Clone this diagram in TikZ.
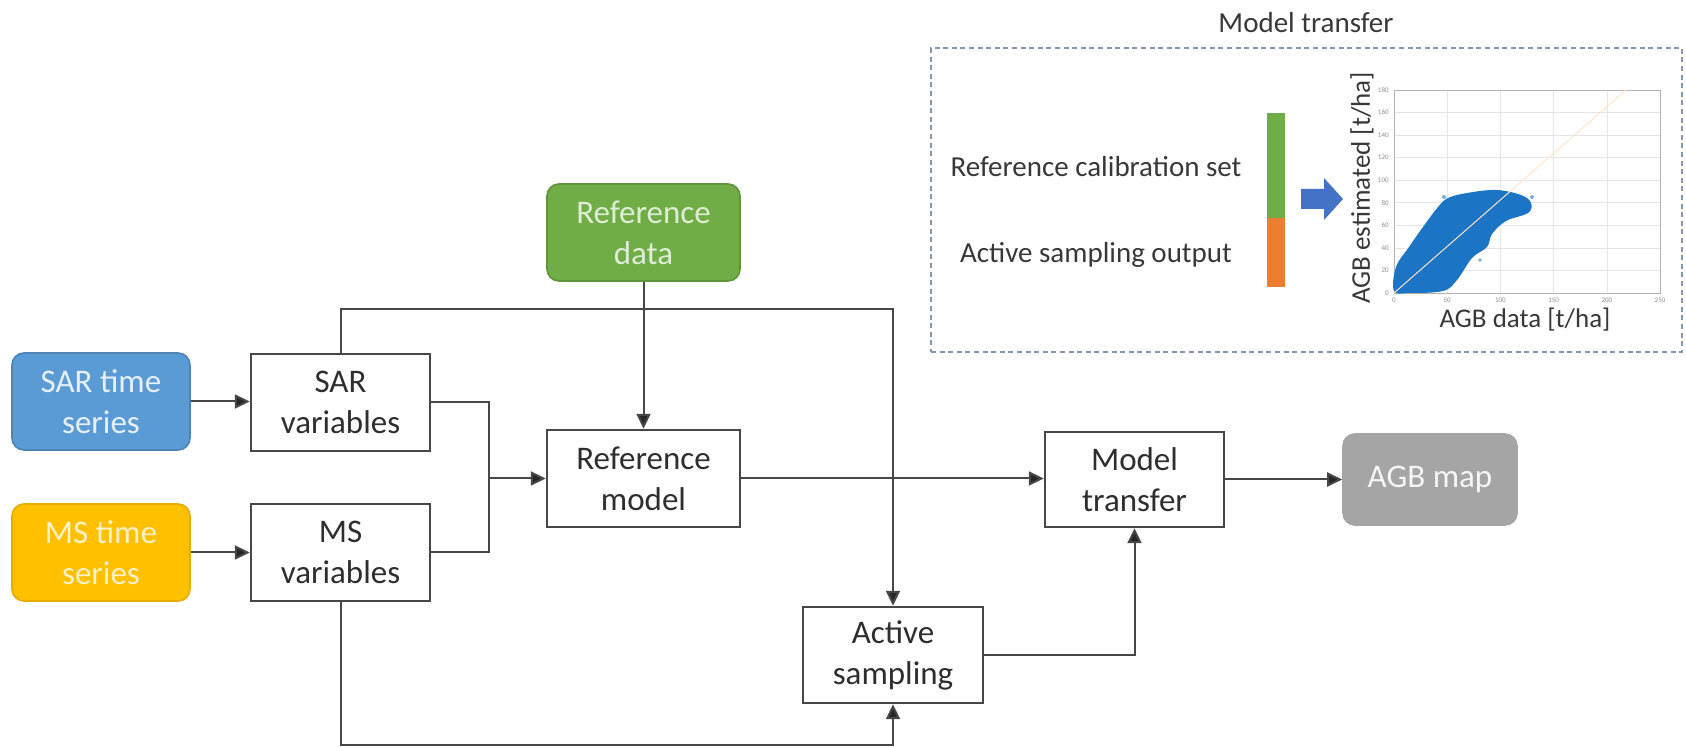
\documentclass[tikz,border=0pt]{standalone}
\usepackage{fontspec}
\setmainfont{Carlito}
\usetikzlibrary{arrows.meta}
\definecolor{sarblue}{HTML}{5B9BD5}
\definecolor{msyellow}{HTML}{FFC000}
\definecolor{refgreen}{HTML}{70AD47}
\definecolor{mapgray}{HTML}{A5A5A5}
\definecolor{calorange}{HTML}{ED7D31}
\definecolor{arrowblue}{HTML}{4472C4}
\definecolor{dotblue}{HTML}{1C74C4}
\definecolor{linegray}{HTML}{474747}
\definecolor{insetline}{HTML}{8497B0}
\begin{document}
\begin{tikzpicture}[x=0.5pt,y=-0.5pt,
  font=\fontsize{16.5}{20.5}\selectfont,
  proc/.style={draw=linegray,line width=1.2pt,fill=white,align=center,minimum width=89.5pt,minimum height=48.5pt,text=black!82,inner sep=0pt},
  src/.style={rounded corners=6pt,align=center,minimum width=89pt,minimum height=48.5pt,inner sep=0pt,line width=0.8pt},
  flow/.style={draw=linegray,line width=1pt,-{Triangle[length=7.5pt,width=7pt,fill=black!85]}},
  link/.style={draw=linegray,line width=1pt},
  insettext/.style={font=\fontsize{14.5}{17}\selectfont,text=black!78,inner sep=0pt},
  ticktext/.style={font=\fontsize{3.5}{4}\selectfont,text=black!45,inner sep=0pt}]
\useasboundingbox (0,0) rectangle (1686,747);
% main flow
\node[src,fill=sarblue,draw=sarblue!85!black,text=white!85!sarblue] (sarts) at (101,401.5) {SAR time\\series};
\node[proc] (sarvar) at (340.5,402.5) {SAR\\variables};
\node[src,fill=msyellow,draw=msyellow!90!black,text=white!78!msyellow] (msts) at (101,552.5) {MS time\\series};
\node[proc] (msvar) at (340.5,552.5) {MS\\variables};
\node[src,fill=refgreen,draw=refgreen!85!black,text=white!78!refgreen,minimum width=96.5pt] (refdata) at (643.5,232.5) {Reference\\data};
\node[proc,minimum width=96.5pt] (refmodel) at (643.5,478.5) {Reference\\model};
\node[proc,minimum width=90pt,minimum height=48pt] (actsamp) at (893,655) {Active\\sampling};
\node[proc,minimum height=47.5pt] (modtrans) at (1134.5,479.5) {Model\\transfer};
\node[src,fill=mapgray,draw=mapgray,text=white!90!mapgray,minimum width=87pt,minimum height=45.5pt] (agbmap) at (1430,479.5) {AGB map};
\coordinate (merge) at (489,478.5);
\coordinate (topturn) at (893,309);
\coordinate (botturn) at (340.5,745);
\draw[flow] (sarts.east) -- (sarts.east -| sarvar.west);
\draw[flow] (msts.east) -- (msvar.west);
\draw[link] (sarvar.east) -| (merge);
\draw[link] (msvar.east) -| (merge);
\draw[flow] (merge) -- (refmodel.west);
\draw[flow] (refdata) -- (refmodel);
\draw[flow] (sarvar.north) |- (topturn) -- (actsamp.north);
\draw[flow] (refmodel.east) -- (refmodel.east -| modtrans.west);
\draw[flow] (msvar.south) -- (botturn) -| (actsamp.south);
\draw[flow] (actsamp.east) -| (modtrans.south);
\draw[flow] (modtrans) -- (agbmap);
% inset: model transfer
\node[insettext] (insettitle) at (1306,23) {Model transfer};
\node[draw=insetline,line width=0.7pt,dash pattern=on 2.5pt off 1.8pt,minimum width=375.5pt,minimum height=152pt,inner sep=0pt] (insetbox) at (1306.5,200) {};
\node[insettext] (calset) at (1096,167) {Reference calibration set};
\node[insettext] (asout) at (1096,255) {Active sampling output};
\fill[refgreen] (1267,113) rectangle (1285,218);
\fill[calorange] (1267,218) rectangle (1285,287);
\fill[arrowblue] (1301,189) -- (1324,189) -- (1324,178) -- (1343,199) -- (1324,220) -- (1324,209) -- (1301,209) -- cycle;
% scatter plot
\draw[black!10,line width=0.3pt] (1447.2,293) -- (1447.2,90) (1500.4,293) -- (1500.4,90) (1553.6,293) -- (1553.6,90) (1606.8,293) -- (1606.8,90)
  (1394,270.4) -- (1660,270.4) (1394,247.9) -- (1660,247.9) (1394,225.3) -- (1660,225.3) (1394,202.8) -- (1660,202.8) (1394,180.2) -- (1660,180.2)
  (1394,157.7) -- (1660,157.7) (1394,135.1) -- (1660,135.1) (1394,112.6) -- (1660,112.6);
\draw[black!30,line width=0.4pt] (1394,90) rectangle (1660,293);
\fill[dotblue] plot[smooth cycle,tension=0.6] coordinates {(1394,291) (1396,267) (1409,247) (1423,227) (1438,207) (1448,198) (1467,193) (1496,190) (1521,195) (1531,203) (1528,213) (1506,221) (1492,234) (1487,247) (1472,258) (1457,280) (1443,291) (1409,293)};
\fill[dotblue!60!white] (1444,197) circle (1pt) (1532,197) circle (1pt) (1480,260) circle (0.9pt);
\draw[orange!20!white,line width=0.5pt] (1394,293) -- (1626,90);
\node[insettext,font=\fontsize{13.5}{16}\selectfont,rotate=90] (ylab) at (1362,188) {AGB estimated [t/ha]};
\node[insettext,font=\fontsize{13.5}{16}\selectfont] (xlab) at (1525,320) {AGB data [t/ha]};
\node[ticktext] (xt0) at (1394,300) {0};
\node[ticktext] (xt50) at (1447.2,300) {50};
\node[ticktext] (xt100) at (1500.4,300) {100};
\node[ticktext] (xt150) at (1553.6,300) {150};
\node[ticktext] (xt200) at (1606.8,300) {200};
\node[ticktext] (xt250) at (1660,300) {250};
\node[ticktext,anchor=east] (yt0) at (1389,293) {0};
\node[ticktext,anchor=east] (yt20) at (1389,270.4) {20};
\node[ticktext,anchor=east] (yt40) at (1389,247.9) {40};
\node[ticktext,anchor=east] (yt60) at (1389,225.3) {60};
\node[ticktext,anchor=east] (yt80) at (1389,202.8) {80};
\node[ticktext,anchor=east] (yt100) at (1389,180.2) {100};
\node[ticktext,anchor=east] (yt120) at (1389,157.7) {120};
\node[ticktext,anchor=east] (yt140) at (1389,135.1) {140};
\node[ticktext,anchor=east] (yt160) at (1389,112.6) {160};
\node[ticktext,anchor=east] (yt180) at (1389,90) {180};
\end{tikzpicture}
\end{document}
